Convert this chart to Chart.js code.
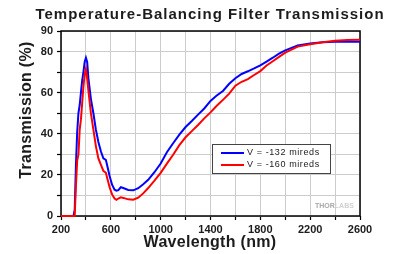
<!DOCTYPE html>
<html>
<head>
<meta charset="utf-8">
<script src="https://cdn.jsdelivr.net/npm/chart.js@4/dist/chart.umd.min.js"></script>
<style>
  html, body { margin: 0; padding: 0; background: #fff; }
  #wrap { width: 400px; height: 254px; }
</style>
</head>
<body>
<div id="wrap"><canvas id="chart" width="400" height="254"></canvas></div>
<script>
// wavelength grid (nm) shared by both curves
const wavelengths = [200, 300, 310, 320, 330, 340, 350, 360, 370, 380, 390, 400, 410, 420, 440, 460, 480, 500, 520, 540, 560, 575, 590, 610, 630, 645, 660, 680, 700, 740, 780, 820, 860, 900, 950, 1000, 1050, 1100, 1150, 1200, 1250, 1300, 1350, 1400, 1450, 1500, 1550, 1600, 1650, 1700, 1750, 1800, 1850, 1900, 1950, 2000, 2100, 2200, 2300, 2400, 2500, 2600];

// transmission (%) for V = -132 mireds (blue)
const trans132 = [0, 0, 3, 25, 41, 50, 54, 60, 66, 70, 75, 77, 75, 67, 57, 50, 42, 36, 31.5, 28, 27.3, 23.5, 19.5, 15.2, 12.8, 12.3, 12.6, 14, 13.6, 12.7, 12.5, 13.5, 15.4, 17.6, 21.3, 25.5, 31, 35.4, 39.6, 43.3, 46.2, 49.3, 52.3, 56, 58.6, 60.8, 64.3, 67, 69.1, 70.4, 71.8, 73.3, 75.1, 77, 79, 80.6, 82.9, 83.9, 84.5, 84.8, 84.8, 84.8];

// transmission (%) for V = -160 mireds (red)
const trans160 = [0, 0, 0, 15, 27, 30, 42, 47, 55, 63, 69, 71.5, 67, 61, 50, 42, 34, 28, 25, 22, 21, 17.5, 14, 10.5, 8.5, 7.9, 8.5, 9.1, 8.8, 8.1, 7.9, 8.9, 11, 13.6, 17.2, 21, 25.5, 29.8, 34.5, 38.3, 41.3, 44.3, 47.5, 50.4, 53.6, 56.5, 59.5, 63.4, 65.3, 66.6, 68.6, 70.5, 73.2, 75.3, 77.4, 79.5, 82.4, 83.6, 84.5, 85.2, 85.6, 85.7];

const seriesLabels = ["V = -132 mireds", "V = -160 mireds"];
const seriesColors = ["#0000ff", "#ff0000"];

const xLabelTicks = [200, 600, 1000, 1400, 1800, 2200, 2600];
const yLabelTicks = [0, 20, 40, 60, 80, 90];

const FONT = "'Liberation Sans', Arial, sans-serif";
const TEXT = "#1c1c1c";

function toPoints(ys) {
  return wavelengths.map((x, i) => ({ x: x, y: ys[i] }));
}

function drawText(ctx, str, x, y, font, spacing, color) {
  ctx.save();
  ctx.font = font;
  ctx.letterSpacing = spacing + "px";
  ctx.fillStyle = color;
  ctx.textAlign = "center";
  ctx.textBaseline = "middle";
  ctx.fillText(str, x, y);
  ctx.restore();
}

// frame, titles, legend and watermark
const decorPlugin = {
  id: "decor",
  beforeDatasetsDraw(chart) {
    const { ctx, chartArea: a } = chart;
    ctx.save();
    ctx.strokeStyle = "#000";
    ctx.lineWidth = 1.5;
    ctx.strokeRect(a.left, a.top, a.right - a.left, a.bottom - a.top);
    ctx.restore();

    // watermark
    ctx.save();
    ctx.font = "bold 7px " + FONT;
    ctx.textBaseline = "middle";
    ctx.fillStyle = "#a8a8a8";
    ctx.fillText("THOR", 315, 206);
    const w = ctx.measureText("THOR").width;
    ctx.fillStyle = "#d0d0d0";
    ctx.fillText("LABS", 315 + w, 206);
    ctx.restore();
  },
  afterDatasetsDraw(chart) {
    const { ctx } = chart;
    // legend box
    ctx.save();
    ctx.fillStyle = "#fff";
    ctx.fillRect(212.5, 144.5, 118, 29);
    ctx.strokeStyle = "#444";
    ctx.lineWidth = 1;
    ctx.strokeRect(212.5, 144.5, 118, 29);
    const rows = [153, 165];
    seriesLabels.forEach((lab, i) => {
      ctx.strokeStyle = seriesColors[i];
      ctx.lineWidth = 2;
      ctx.beginPath();
      ctx.moveTo(221, rows[i]);
      ctx.lineTo(244, rows[i]);
      ctx.stroke();
      ctx.font = "9px " + FONT;
      ctx.letterSpacing = "0.6px";
      ctx.fillStyle = "#222";
      ctx.textBaseline = "middle";
      ctx.fillText(lab, 247, rows[i]);
    });
    ctx.restore();

    // titles
    drawText(ctx, "Temperature-Balancing Filter Transmission", 210, 15, "bold 15px " + FONT, 1, TEXT);
    drawText(ctx, "Wavelength (nm)", 210, 243, "bold 16px " + FONT, 0.3, TEXT);
    ctx.save();
    ctx.translate(27, 110);
    ctx.rotate(-Math.PI / 2);
    drawText(ctx, "Transmission (%)", 0, 0, "bold 16px " + FONT, 0.3, TEXT);
    ctx.restore();
  },
};

new Chart(document.getElementById("chart"), {
  type: "line",
  data: {
    datasets: [
      {
        label: seriesLabels[0],
        data: toPoints(trans132),
        borderColor: seriesColors[0],
        borderWidth: 2,
        pointRadius: 0,
        tension: 0,
        clip: false,
        order: 1,
      },
      {
        label: seriesLabels[1],
        data: toPoints(trans160),
        borderColor: seriesColors[1],
        borderWidth: 2,
        pointRadius: 0,
        tension: 0,
        clip: false,
        order: 0,
      },
    ],
  },
  options: {
    responsive: false,
    devicePixelRatio: 1,
    animation: false,
    layout: { padding: { top: 31, right: 40, left: 0, bottom: 0 } },
    plugins: {
      legend: { display: false },
      tooltip: { enabled: false },
      title: { display: false },
    },
    scales: {
      x: {
        type: "linear",
        min: 200,
        max: 2600,
        afterFit: (s) => { s.height = 38; },
        border: { display: false },
        grid: { color: "#cccccc", lineWidth: 1, tickLength: 4, tickColor: "#000", tickWidth: 1.2 },
        ticks: {
          stepSize: 200,
          autoSkip: false,
          maxRotation: 0,
          padding: 3,
          color: TEXT,
          font: { family: FONT, size: 11, weight: "bold" },
          callback: (v) => (xLabelTicks.includes(v) ? String(v) : ""),
        },
      },
      y: {
        min: 0,
        max: 90,
        afterFit: (s) => { s.width = 61; },
        border: { display: false },
        grid: { color: "#cccccc", lineWidth: 1, tickLength: 4, tickColor: "#000", tickWidth: 1.2 },
        ticks: {
          stepSize: 10,
          autoSkip: false,
          padding: 4,
          color: TEXT,
          font: { family: FONT, size: 11, weight: "bold" },
          callback: (v) => (yLabelTicks.includes(v) ? String(v) : ""),
        },
      },
    },
  },
  plugins: [decorPlugin],
});
</script>
</body>
</html>
